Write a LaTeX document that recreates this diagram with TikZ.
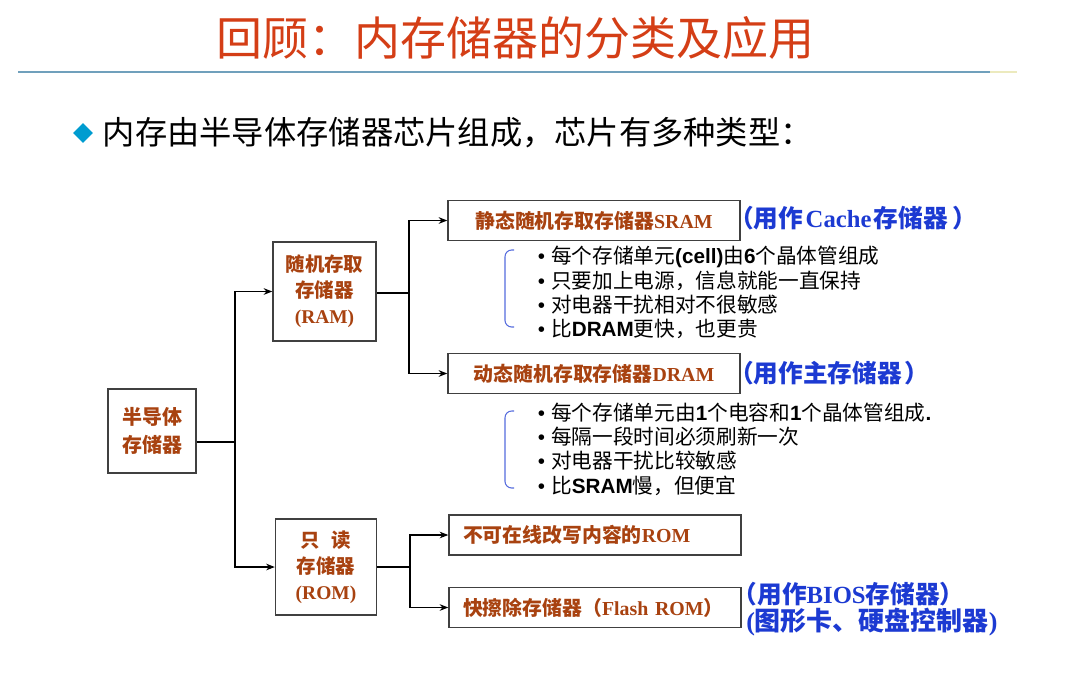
\documentclass[tikz,border=0pt]{standalone}
\usepackage{fontspec}
\setmainfont{Noto Sans CJK SC}
\newfontfamily\tnr{Liberation Serif}
\newfontfamily\arl{Liberation Sans}
\usetikzlibrary{shapes, arrows, arrows.meta, positioning}

\definecolor{titlered}{RGB}{212,62,22}
\definecolor{boxbrown}{RGB}{168,66,16}
\definecolor{noteblue}{RGB}{28,58,210}
\definecolor{dotblue}{RGB}{0,156,208}
\definecolor{rulegray}{RGB}{112,160,188}
\definecolor{ruleyellow}{RGB}{236,234,190}

\newcommand{\tb}[1]{{\tnr\bfseries #1}}
\newcommand{\ab}[1]{{\arl\bfseries #1}}
\newcommand{\bul}{{\arl\textbullet}\hspace{0.3em}}

\begin{document}
\begin{tikzpicture}[
        x=0.75pt, y=-0.75pt,
        box/.style={draw=black!75, line width=1.1pt, rectangle, inner sep=0pt, align=center, text=boxbrown, font=\bfseries\fontsize{14.6}{19.5}\selectfont},
        wide/.style={box, minimum width=219pt, minimum height=30pt, font=\bfseries\fontsize{14.9}{19}\selectfont},
        wideleft/.style={wide, text width=198pt, inner xsep=10.5pt, align=left},
        note/.style={anchor=west, text=noteblue, font=\bfseries\fontsize{18.5}{20.5}\selectfont, inner sep=0pt},
        list/.style={anchor=west, align=left, inner sep=0pt, font=\fontsize{15.5}{18.2}\selectfont},
        brace/.style={noteblue!75, line width=0.8pt, rounded corners=5pt},
        arrow/.style={->, >={Stealth[length=6.5pt, width=5pt]}, line width=0.8pt},
        link/.style={line width=0.8pt}
    ]
        \useasboundingbox (0,0) rectangle (1080,690);

        \node[text=titlered, font=\fontsize{34.5}{40}\selectfont] (title) at (515,38) {回顾：内存储器的分类及应用};
        \draw[rulegray, line width=1.3pt] (18,72) -- (990,72);
        \draw[ruleyellow, line width=1.3pt] (990,72) -- (1017,72);

        \node[diamond, fill=dotblue, inner sep=0pt, minimum size=15pt] (dot) at (83,133) {};
        \node[right=7pt of dot, inner sep=0pt, font=\fontsize{24.2}{28}\selectfont] (intro) {内存由半导体存储器芯片组成，芯片有多种类型：};

        \node[box, minimum width=66pt, minimum height=63pt, font=\bfseries\fontsize{15}{21}\selectfont] (semi) at (152,431) {半导体\\存储器};
        \node[box, minimum width=77.25pt, minimum height=74.25pt] (ram) at (324.5,291.5) {随机存取\\存储器\\\tb{(RAM)}};
        \node[box, minimum width=75.75pt, minimum height=72pt] (rom) at (326,567) {只\hspace{0.6em}读\\存储器\\\tb{(ROM)}};

        \node[wide] (sram) at (594,220.5) {静态随机存取存储器\tb{SRAM}};
        \node[wide] (dram) at (594,373.5) {动态随机存取存储器\tb{DRAM}};
        \node[wideleft] (rom1) at (595,535) {不可在线改写内容的\tb{ROM}};
        \node[wideleft] (flash) at (595,607.5) {快擦除存储器（\tb{Flash ROM}）};

        \node[note] (sramuse) at (729,218) {（用作\hspace{0.1em}\tb{Cache}\hspace{0.1em}存储器\hspace{0.2em}）};
        \node[note] (dramuse) at (729,373) {（用作主存储器\hspace{0.1em}）};
        \node[note, align=left] (flashuse) at (746,609) {\hspace*{-0.55em}（用作\tb{BIOS}存储器）\\{\fontsize{19.5}{20.5}\selectfont\tb{(}图形卡、硬盘控制器\tb{)}}};

        \node[list] (sramlist) at (537.5,292.5) {\bul 每个存储单元\ab{(cell)}由\ab{6}个晶体管组成\\\bul 只要加上电源，信息就能一直保持\\\bul 对电器干扰相对不很敏感\\\bul 比\ab{DRAM}更快，也更贵};
        \node[list] (dramlist) at (537.5,449) {\bul 每个存储单元由\ab{1}个电容和\ab{1}个晶体管组成\ab{.}\\\bul 每隔一段时间必须刷新一次\\\bul 对电器干扰比较敏感\\\bul 比\ab{SRAM}慢，但便宜};

        \draw[brace] (514,250) -- (505,250) -- (505,327) -- (514,327);
        \draw[brace] (514,411) -- (505,411) -- (505,488) -- (514,488);

        \coordinate (j1) at (235,442);
        \draw[link] (semi.east |- j1) -- (j1);
        \draw[arrow] (j1) |- (ram.west);
        \draw[arrow] (j1) |- (rom.west);

        \coordinate (j2) at (409,293);
        \draw[link] (ram.east |- j2) -- (j2);
        \draw[arrow] (j2) |- (sram.west);
        \draw[arrow] (j2) |- (dram.west);

        \coordinate (j3) at (410,567);
        \draw[link] (rom.east |- j3) -- (j3);
        \draw[arrow] (j3) |- (rom1.west);
        \draw[arrow] (j3) |- (flash.west);
    \end{tikzpicture}
\end{document}
